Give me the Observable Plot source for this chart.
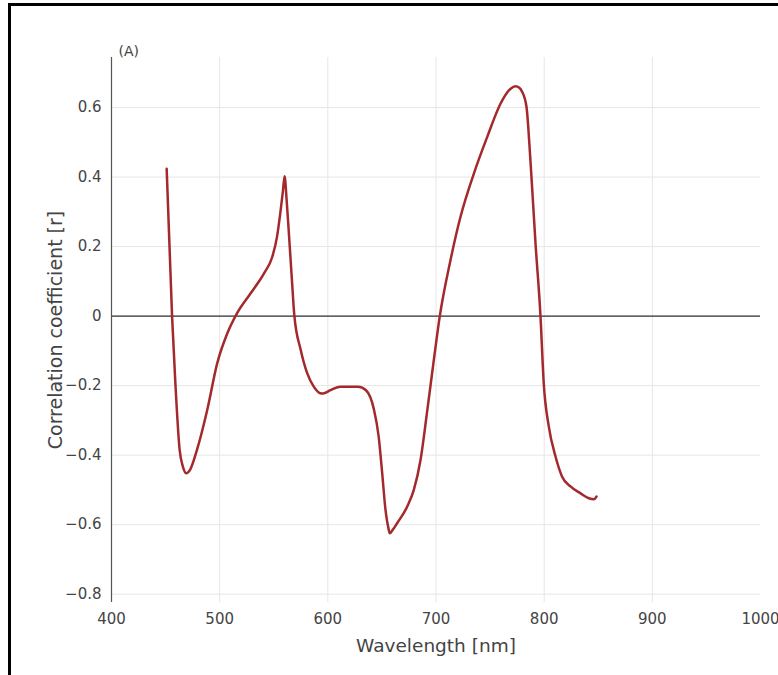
<!DOCTYPE html>
<html>
<head>
<meta charset="utf-8">
<script src="https://cdn.jsdelivr.net/npm/d3@7"></script>
<script src="https://cdn.jsdelivr.net/npm/@observablehq/plot@0.6"></script>
<style>
  html, body { margin: 0; padding: 0; background: #fff; overflow: hidden; }
  #wrap { position: relative; width: 778px; height: 675px; }
  #frame { position: absolute; left: 8px; top: 3px; width: 820px; height: 720px;
           border-top: 3px solid #000; border-left: 3px solid #000; box-sizing: border-box; }
  #chart { position: absolute; left: 0; top: 0; }
</style>
</head>
<body>
<div id="wrap"><div id="frame"></div><div id="chart"></div></div>
<script>
// Wavelength [nm]
const wavelength = [451, 456, 459, 463, 466, 469, 473, 479, 488.5, 497.7, 507, 516, 528.5, 541, 548.6, 553, 556, 558.5, 560,
  562, 564, 567, 569, 575, 581, 587, 593, 595.5, 602.5, 611.7, 620, 628, 635.5, 642.5, 647, 650, 653.3, 656, 657.3,
  660, 664, 673.4, 679.5, 685.7, 692, 698, 703.5, 713.4, 722.6, 735, 747.3, 759.6, 765, 769, 773.5, 777, 779.7,
  783.7, 787.3, 792, 796.6, 799.6, 804.3, 810.5, 816.6, 824.3, 833.6, 841.3, 846, 848.4];
// Correlation coefficient [r]
const corr = [0.424, 0.0, -0.19, -0.385, -0.433, -0.452, -0.44, -0.385, -0.27, -0.136, -0.05, 0.008, 0.065, 0.123, 0.17, 0.228, 0.295, 0.36, 0.402,
  0.33, 0.238, 0.094, 0.003, -0.098, -0.165, -0.203, -0.222, -0.223, -0.213, -0.203, -0.203, -0.203, -0.214, -0.267, -0.347, -0.443, -0.557, -0.61, -0.625,
  -0.615, -0.596, -0.548, -0.5, -0.414, -0.27, -0.126, 0.0, 0.161, 0.285, 0.41, 0.515, 0.611, 0.64, 0.654, 0.661, 0.657, 0.645,
  0.601, 0.448, 0.209, 0.0, -0.193, -0.318, -0.404, -0.462, -0.49, -0.51, -0.524, -0.527, -0.519];

const xTicks = [400, 500, 600, 700, 800, 900, 1000];
const yTicks = [-0.8, -0.6, -0.4, -0.2, 0, 0.2, 0.4, 0.6];
const xGrid = [500, 600, 700, 800, 900];
const xTitle = "Wavelength [nm]";
const yTitle = "Correlation coefficient [r]";
const panelLabel = "(A)";

const data = wavelength.map((w, i) => ({w, r: corr[i]}));
const fmtY = d => d === 0 ? "0" : d.toFixed(1).replace("-", "\u2212");
const fmtX = d => String(d);

const chart = Plot.plot({
  width: 778,
  height: 675,
  marginLeft: 111,
  marginRight: 18,
  marginTop: 57,
  marginBottom: 73,
  style: {background: "transparent", fontFamily: "DejaVu Sans, Verdana, sans-serif", color: "#444", overflow: "visible"},
  x: {domain: [400, 1000], axis: null},
  y: {domain: [-0.824, 0.744], axis: null},
  marks: [
    Plot.gridY(yTicks, {stroke: "#e6e6e6", strokeOpacity: 1, strokeWidth: 1}),
    Plot.gridX(xGrid, {stroke: "#e6e6e6", strokeOpacity: 1, strokeWidth: 1}),
    Plot.ruleY([0], {stroke: "#333", strokeWidth: 1.2}),
    Plot.ruleX([400], {stroke: "#555", strokeWidth: 1.2}),
    Plot.axisX(xTicks, {tickSize: 0, tickPadding: 11, fontSize: 15, fill: "#444", label: null, tickFormat: fmtX}),
    Plot.axisY(yTicks, {tickSize: 0, tickPadding: 10, fontSize: 15, fill: "#444", label: null, tickFormat: fmtY}),
    Plot.line(data, {x: "w", y: "r", stroke: "#a3292c", strokeWidth: 2.5, curve: "monotone-x"}),
    Plot.text([xTitle], {frameAnchor: "bottom", dy: 49, fontSize: 18.5, fill: "#444", text: d => d}),
    Plot.text([yTitle], {frameAnchor: "left", textAnchor: "middle", dx: -56, rotate: -90, fontSize: 19, fill: "#444", text: d => d}),
    Plot.text([panelLabel], {frameAnchor: "top-left", textAnchor: "start", dx: 7, dy: -11, fontSize: 14, fill: "#444", text: d => d})
  ]
});
document.getElementById("chart").appendChild(chart);
</script>
</body>
</html>
